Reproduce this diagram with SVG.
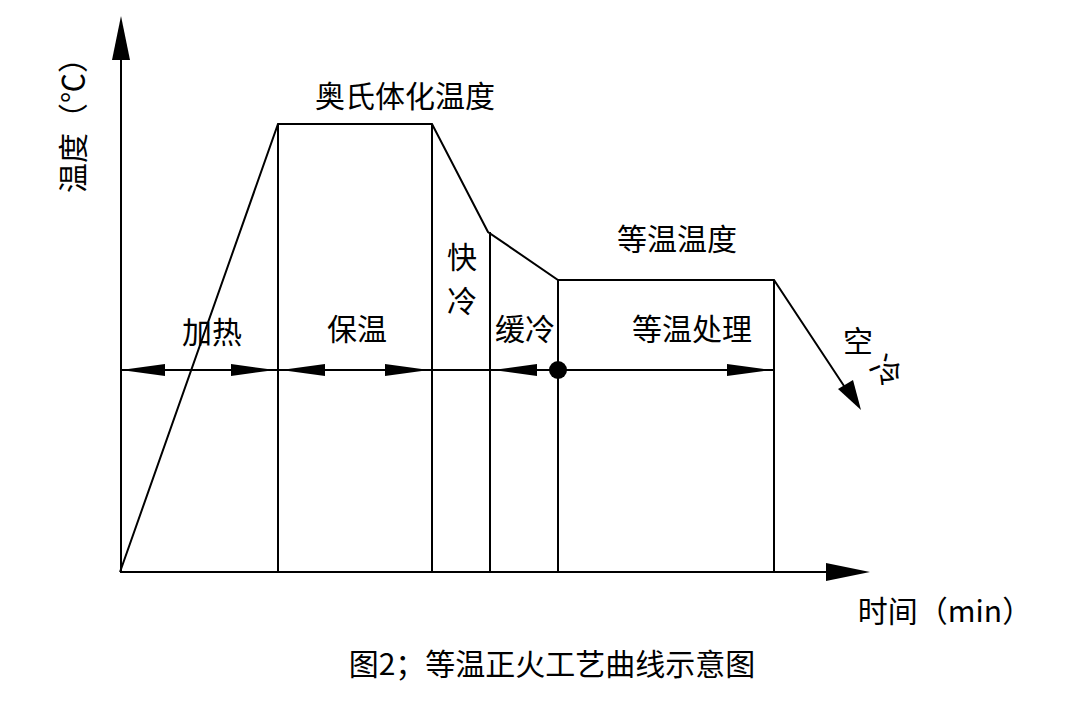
<svg xmlns="http://www.w3.org/2000/svg" width="1080" height="706" viewBox="0 0 1080 706">
<style>
.l{stroke:#000;stroke-width:2;fill:none}
.t{font-family:"Noto Sans CJK SC","Noto Sans",sans-serif;font-size:30px;fill:#000}
.a{fill:#000}
</style>
<rect width="1080" height="706" fill="#fff"/>
<g id="connectors">
<polyline class="l" points="121,60 121,572 830,572"/>
<polygon class="a" points="121,16 112,60 130,60"/>
<polygon class="a" points="870,572 826,563 826,581"/>
<polyline class="l" points="120,572 278,124 432,124 488,232 558,280 774,280 850,395"/>
<polygon class="a" points="861,410 838,389 853,380"/>
<line class="l" x1="278" y1="124" x2="278" y2="572"/>
<line class="l" x1="432" y1="124" x2="432" y2="572"/>
<line class="l" x1="490" y1="232" x2="490" y2="572"/>
<line class="l" x1="558" y1="280" x2="558" y2="572"/>
<line class="l" x1="774" y1="280" x2="774" y2="572"/>
<line class="l" x1="121" y1="370" x2="774" y2="370"/>
<polygon class="a" points="121,370 165,364 165,376"/>
<polygon class="a" points="275,370 231,364 231,376"/>
<polygon class="a" points="281,370 325,364 325,376"/>
<polygon class="a" points="429,370 385,364 385,376"/>
<polygon class="a" points="493,370 537,364 537,376"/>
<polygon class="a" points="771,370 727,364 727,376"/>
<circle class="a" cx="558" cy="370" r="9"/>
</g>
<g id="labels">
<text class="t" transform="translate(84,118) rotate(-90)" text-anchor="middle">温度（℃）</text>
<text class="t" x="405" y="107" text-anchor="middle">奥氏体化温度</text>
<text class="t" x="212" y="343" text-anchor="middle">加热</text>
<text class="t" x="357" y="340" text-anchor="middle">保温</text>
<text class="t" x="462" y="268" text-anchor="middle">快</text>
<text class="t" x="462" y="312" text-anchor="middle">冷</text>
<text class="t" x="525" y="340" text-anchor="middle">缓冷</text>
<text class="t" x="677" y="250" text-anchor="middle">等温温度</text>
<text class="t" x="692" y="340" text-anchor="middle">等温处理</text>
<text class="t" x="858" y="352" text-anchor="middle">空</text>
<text class="t" transform="translate(886,372) rotate(45)" text-anchor="middle" y="10">冷</text>
<text class="t" x="945" y="622" text-anchor="middle">时间（min）</text>
<text class="t" x="552" y="675" text-anchor="middle">图2；等温正火工艺曲线示意图</text>
</g>
</svg>
